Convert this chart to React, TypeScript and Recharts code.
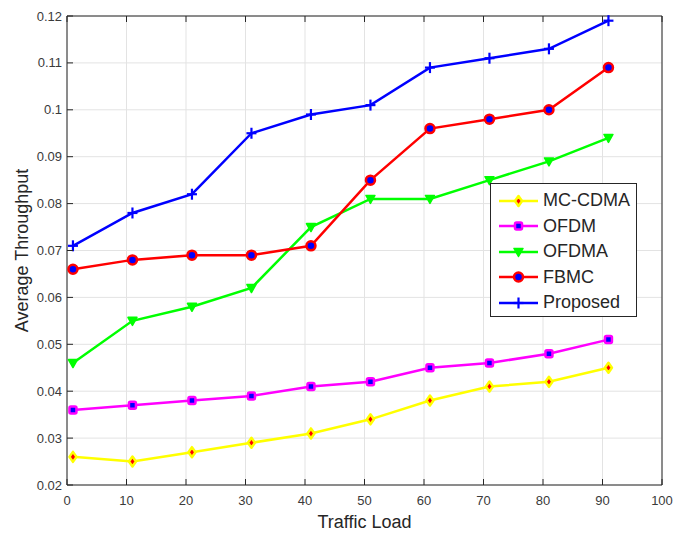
import { LineChart, Line, XAxis, YAxis, CartesianGrid, Legend, Label } from 'recharts'

const LOAD = [1, 11, 21, 31, 41, 51, 61, 71, 81, 91]
const MC_CDMA = [0.026, 0.025, 0.027, 0.029, 0.031, 0.034, 0.038, 0.041, 0.042, 0.045]
const OFDM = [0.036, 0.037, 0.038, 0.039, 0.041, 0.042, 0.045, 0.046, 0.048, 0.051]
const OFDMA = [0.046, 0.055, 0.058, 0.062, 0.075, 0.081, 0.081, 0.085, 0.089, 0.094]
const FBMC = [0.066, 0.068, 0.069, 0.069, 0.071, 0.085, 0.096, 0.098, 0.1, 0.109]
const PROPOSED = [0.071, 0.078, 0.082, 0.095, 0.099, 0.101, 0.109, 0.111, 0.113, 0.119]

const X_TICKS = [0, 10, 20, 30, 40, 50, 60, 70, 80, 90, 100]
const Y_TICKS = [0.02, 0.03, 0.04, 0.05, 0.06, 0.07, 0.08, 0.09, 0.1, 0.11, 0.12]

const FONT = '"Liberation Sans", Arial, Helvetica, sans-serif'
const AXIS = '#262626'
const TICK = '#3a3a3a'
const GRID = '#e3e3e3'

const data = LOAD.map((load, i) => ({
  load,
  mcCdma: MC_CDMA[i],
  ofdm: OFDM[i],
  ofdma: OFDMA[i],
  fbmc: FBMC[i],
  proposed: PROPOSED[i],
}))

type Marker = (cx: number, cy: number) => React.ReactElement

const diamond: Marker = (cx, cy) => (
  <polygon
    points={`${cx},${cy - 5} ${cx + 3.5},${cy} ${cx},${cy + 5} ${cx - 3.5},${cy}`}
    fill="#ff0000" stroke="#ffff00" strokeWidth={2.5} strokeLinejoin="round"
  />
)
const square: Marker = (cx, cy) => (
  <rect x={cx - 3.5} y={cy - 3.5} width={7} height={7} rx={1.5}
    fill="#0000ff" stroke="#ff00ff" strokeWidth={2.5} />
)
const triDown: Marker = (cx, cy) => (
  <polygon
    points={`${cx - 4.5},${cy - 3.5} ${cx + 4.5},${cy - 3.5} ${cx},${cy + 4.5}`}
    fill="#00ff00" stroke="#00ff00" strokeWidth={1.5} strokeLinejoin="round"
  />
)
const circle: Marker = (cx, cy) => (
  <circle cx={cx} cy={cy} r={4.5} fill="#0000ff" stroke="#ff0000" strokeWidth={2.5} />
)
const plus: Marker = (cx, cy) => (
  <g stroke="#0000ff" strokeWidth={2.2}>
    <line x1={cx - 5} y1={cy} x2={cx + 5} y2={cy} />
    <line x1={cx} y1={cy - 5.5} x2={cx} y2={cy + 5.5} />
  </g>
)

const SERIES = [
  { key: 'mcCdma', name: 'MC-CDMA', color: '#ffff00', marker: diamond },
  { key: 'ofdm', name: 'OFDM', color: '#ff00ff', marker: square },
  { key: 'ofdma', name: 'OFDMA', color: '#00ff00', marker: triDown },
  { key: 'fbmc', name: 'FBMC', color: '#ff0000', marker: circle },
  { key: 'proposed', name: 'Proposed', color: '#0000ff', marker: plus },
]

const fmtY = (v: number) => String(Number(v.toFixed(2)))

function LeftTick({ x, y, payload }: any) {
  return (
    <g>
      <line x1={x} y1={y} x2={x + 6} y2={y} stroke={AXIS} />
      <text x={x - 5} y={y} dy={4.5} textAnchor="end" fontSize={13} fill={TICK} fontFamily={FONT}>
        {fmtY(payload.value)}
      </text>
    </g>
  )
}

function BottomTick({ x, y, payload }: any) {
  return (
    <g>
      <line x1={x} y1={y} x2={x} y2={y - 6} stroke={AXIS} />
      <text x={x} y={y + 20} textAnchor="middle" fontSize={13} fill={TICK} fontFamily={FONT}>
        {payload.value}
      </text>
    </g>
  )
}

function TopTick({ x, y }: any) {
  return <line x1={x} y1={y} x2={x} y2={y + 6} stroke={AXIS} />
}

function RightTick({ x, y }: any) {
  return <line x1={x} y1={y} x2={x - 6} y2={y} stroke={AXIS} />
}

function LegendBox() {
  return (
    <div
      style={{
        width: 147, height: 134, boxSizing: 'border-box', background: '#fff',
        border: `1px solid ${AXIS}`, padding: '4px 0 0 7px', fontFamily: FONT,
      }}
    >
      {SERIES.map(s => (
        <div key={s.key} style={{ display: 'flex', alignItems: 'center', height: 25.5 }}>
          <svg width={44} height={16} style={{ flex: 'none' }}>
            <line x1={1} y1={8} x2={40} y2={8} stroke={s.color} strokeWidth={2.5} />
            {s.marker(20.5, 8)}
          </svg>
          <span style={{ fontSize: 18, color: AXIS, marginLeft: 1 }}>{s.name}</span>
        </div>
      ))}
    </div>
  )
}

export default function App() {
  return (
    <div style={{ position: 'absolute', left: 0, top: 0, background: '#fff' }}>
      <LineChart width={673} height={534} data={data} margin={{ top: 0, right: 0, left: 0, bottom: 0 }}>
        <CartesianGrid stroke={GRID} vertical horizontal />
        <XAxis
          dataKey="load" type="number" domain={[0, 100]} ticks={X_TICKS} interval={0}
          height={49} tickSize={0} tickMargin={0} tickLine={false}
          axisLine={{ stroke: AXIS }} tick={<BottomTick />}
        >
          <Label
            value="Traffic Load" position="insideBottom" offset={6}
            style={{ fontSize: 18, fill: AXIS, fontFamily: FONT }}
          />
        </XAxis>
        <XAxis
          xAxisId="top" orientation="top" dataKey="load" type="number" domain={[0, 100]}
          ticks={X_TICKS} interval={0} height={16} tickSize={0} tickMargin={0} tickLine={false}
          axisLine={{ stroke: AXIS }} tick={<TopTick />}
        />
        <YAxis
          type="number" domain={[0.02, 0.12]} ticks={Y_TICKS} interval={0}
          width={67} tickSize={0} tickMargin={0} tickLine={false}
          axisLine={{ stroke: AXIS }} tick={<LeftTick />}
        >
          <Label
            content={(p: any) => {
              const cx = p.viewBox.x + 22
              const cy = p.viewBox.y + p.viewBox.height / 2
              return (
                <text
                  x={cx} y={cy} transform={`rotate(-90 ${cx} ${cy})`} textAnchor="middle"
                  dominantBaseline="central" fontSize={18} fill={AXIS} fontFamily={FONT}
                >
                  Average Throughput
                </text>
              )
            }}
          />
        </YAxis>
        <YAxis
          yAxisId="right" orientation="right" type="number" domain={[0.02, 0.12]}
          ticks={Y_TICKS} interval={0} width={11} tickSize={0} tickMargin={0} tickLine={false}
          axisLine={{ stroke: AXIS }} tick={<RightTick />}
        />
        {SERIES.map(s => (
          <Line
            key={s.key}
            dataKey={s.key}
            name={s.name}
            stroke={s.color}
            strokeWidth={2.5}
            type="linear"
            isAnimationActive={false}
            dot={(p: any) => <g key={`${s.key}-${p.index}`}>{s.marker(p.cx, p.cy)}</g>}
            activeDot={false}
          />
        ))}
        <Legend
          layout="vertical" align="center" verticalAlign="middle"
          wrapperStyle={{ position: 'absolute', left: 490, top: 183, width: 147, height: 134 }}
          content={() => <LegendBox />}
        />
      </LineChart>
    </div>
  )
}
